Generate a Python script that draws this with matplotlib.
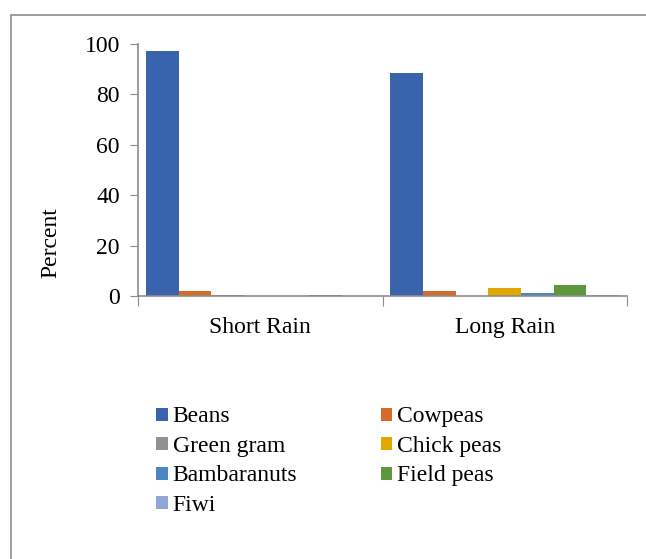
import matplotlib.pyplot as plt
from matplotlib.patches import Rectangle
import numpy as np

plt.rcParams['font.family'] = ['Liberation Serif', 'DejaVu Serif']

seasons = ['Short Rain', 'Long Rain']
crops = ['Beans', 'Cowpeas', 'Green gram', 'Chick peas', 'Bambaranuts', 'Field peas', 'Fiwi']
beans = [97.3, 88.4]
cowpeas = [1.9, 1.9]
green_gram = [0.2, 0.0]
chick_peas = [0.0, 3.0]
bambaranuts = [0.0, 1.0]
field_peas = [0.2, 4.2]
fiwi = [0.0, 0.5]
colors = ['#3A63AD', '#D66B28', '#919191', '#E2A800', '#4B87BE', '#5E963B', '#8FA6D6']

values = [beans, cowpeas, green_gram, chick_peas, bambaranuts, field_peas, fiwi]

fig = plt.figure(figsize=(6.46, 5.59), dpi=100)
fig.patches.append(Rectangle((11/646, -0.05), 1.1, 1 - 15/559 + 0.05, transform=fig.transFigure,
                             fill=False, edgecolor='#8c8c8c', linewidth=1.2))
ax = fig.add_axes([138/646, 1 - 296/559, (627 - 138)/646, (296 - 44)/559])

x = np.arange(len(seasons))
w = 0.1336
handles = []
for i, (name, vals) in enumerate(zip(crops, values)):
    b = ax.bar(x + (i - 3) * w, vals, w, color=colors[i], label=name)
    handles.append(b)

fs = 17
ax.set_xlim(-0.5, 1.5)
ax.set_ylim(0, 100)
ax.set_yticks(range(0, 101, 20))
ax.set_xticks([-0.5, 0.5, 1.5], minor=False)
ax.set_xticklabels([])
ax.set_xticks(x, minor=True)
ax.set_xticklabels(seasons, minor=True)
ax.tick_params(axis='x', which='minor', length=0, labelsize=fs, pad=15)
ax.tick_params(axis='x', which='major', length=7, color='#8c8c8c', direction='out')
ax.tick_params(axis='y', length=6, color='#8c8c8c', labelsize=fs, pad=7)
for s in ['top', 'right']:
    ax.spines[s].set_visible(False)
for s in ['left', 'bottom']:
    ax.spines[s].set_color('#8c8c8c')
    ax.spines[s].set_linewidth(1.2)
ax.set_ylabel('Percent', fontsize=fs)
ax.yaxis.set_label_coords(-0.157, 0.21)

order = [0, 2, 4, 6, 1, 3, 5]
fig.legend([handles[k] for k in order], [crops[k] for k in order], ncol=2,
           loc='upper left', bbox_to_anchor=(147/646, 1 - 397/559), frameon=False,
           fontsize=fs, handlelength=0.47, handleheight=0.47, handletextpad=0.22,
           labelspacing=0.36, columnspacing=3.55, borderaxespad=0)

fig.savefig('out.png', dpi=100)
